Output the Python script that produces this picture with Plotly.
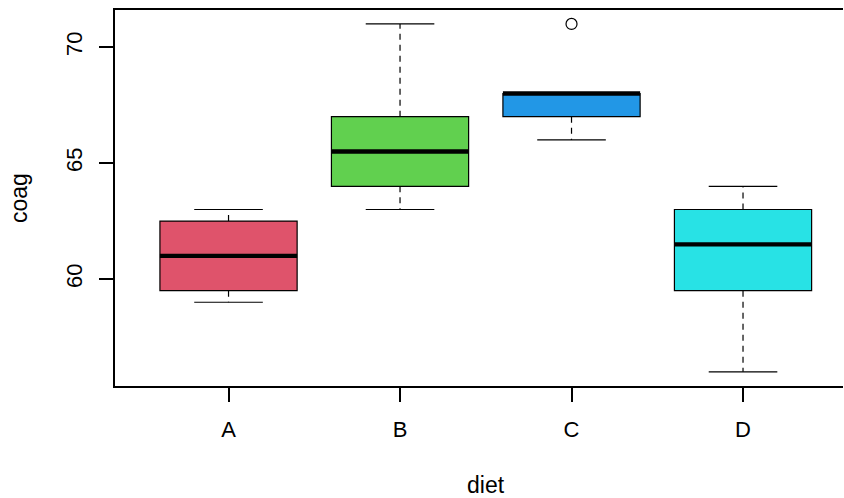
import numpy as np
import plotly.graph_objects as go

diets = ["A", "B", "C", "D"]
coag_A = [62, 60, 63, 59]
coag_B = [63, 67, 71, 64, 65, 66]
coag_C = [68, 66, 71, 67, 68, 68]
coag_D = [56, 62, 60, 61, 63, 64, 63, 59]
groups = [coag_A, coag_B, coag_C, coag_D]
colors = ["#DF536B", "#61D04F", "#2297E6", "#28E2E5"]
y_ticks = [60, 65, 70]

def fivenum(v):
    v = np.sort(np.asarray(v, float))
    n = len(v)
    n4 = np.floor((n + 3) / 2) / 2
    d = np.array([1, n4, (n + 1) / 2, n + 1 - n4, n]) - 1
    return 0.5 * (v[np.floor(d).astype(int)] + v[np.ceil(d).astype(int)])

fig = go.Figure()
bw = 0.8
LW = 1.2
AW = 1.5
for i, (name, vals, col) in enumerate(zip(diets, groups, colors)):
    x = i + 1
    mn, q1, med, q3, mx = fivenum(vals)
    iqr = q3 - q1
    arr = np.asarray(vals, float)
    inside = arr[(arr >= q1 - 1.5 * iqr) & (arr <= q3 + 1.5 * iqr)]
    lo, hi = inside.min(), inside.max()
    outs = arr[(arr < q1 - 1.5 * iqr) | (arr > q3 + 1.5 * iqr)]
    fig.add_trace(go.Box(x=[x], q1=[q1], median=[med], q3=[q3], lowerfence=[q1],
                         upperfence=[q3], width=bw, fillcolor=col,
                         line=dict(color="black", width=LW), boxpoints=False,
                         hoverinfo="skip", showlegend=False))
    # whiskers (dashed)
    fig.add_trace(go.Scatter(x=[x, x, None, x, x], y=[q3, hi, None, q1, lo], mode="lines",
                             line=dict(color="black", width=LW, dash="6px,5px"),
                             showlegend=False, hoverinfo="skip"))
    # staples
    fig.add_trace(go.Scatter(x=[x - bw / 4, x + bw / 4, None, x - bw / 4, x + bw / 4],
                             y=[hi, hi, None, lo, lo], mode="lines",
                             line=dict(color="black", width=LW),
                             showlegend=False, hoverinfo="skip"))
    # median
    fig.add_trace(go.Scatter(x=[x - bw / 2, x + bw / 2], y=[med, med], mode="lines",
                             line=dict(color="black", width=4.3),
                             showlegend=False, hoverinfo="skip"))
    if len(outs):
        fig.add_trace(go.Scatter(x=[x] * len(outs), y=outs, mode="markers",
                                 marker=dict(symbol="circle-open", size=11,
                                             color="black", line=dict(width=LW)),
                                 showlegend=False, hoverinfo="skip"))

font = dict(family="Liberation Sans, Arial, sans-serif", size=22, color="black")
tfont = dict(family="Liberation Sans, Arial, sans-serif", size=23, color="black")
fig.update_layout(
    width=844, height=498,
    margin=dict(l=115, r=1, t=10, b=112),
    paper_bgcolor="white", plot_bgcolor="white",
    font=font,
    xaxis=dict(range=[0.338, 4.583], tickmode="array", tickvals=[1, 2, 3, 4],
               ticktext=diets, ticks="outside", ticklen=14, tickwidth=AW, tickcolor="black",
               showline=True, mirror=True, linecolor="black", linewidth=AW,
               showgrid=False, zeroline=False, ticklabelstandoff=9, automargin=False),
    yaxis=dict(range=[55.39, 71.6], tickmode="array", tickvals=y_ticks,
               ticks="outside", ticklen=14, tickwidth=AW, tickcolor="black", tickangle=-90,
               showline=True, mirror=False, linecolor="black", linewidth=AW,
               showgrid=False, zeroline=False, ticklabelstandoff=8, automargin=False),
    annotations=[
        dict(text="diet", xref="paper", yref="paper", x=(486 - 115) / 728,
             y=0, xanchor="center", yanchor="middle", yshift=-99, showarrow=False, font=tfont),
        dict(text="coag", xref="paper", yref="paper", x=0, y=0.5, xanchor="center",
             yanchor="middle", xshift=-96, textangle=-90, showarrow=False, font=tfont),
    ],
)
fig.write_html("out.html", config={"displayModeBar": False},
               post_script="document.body.style.margin='0';document.body.style.padding='0';")
